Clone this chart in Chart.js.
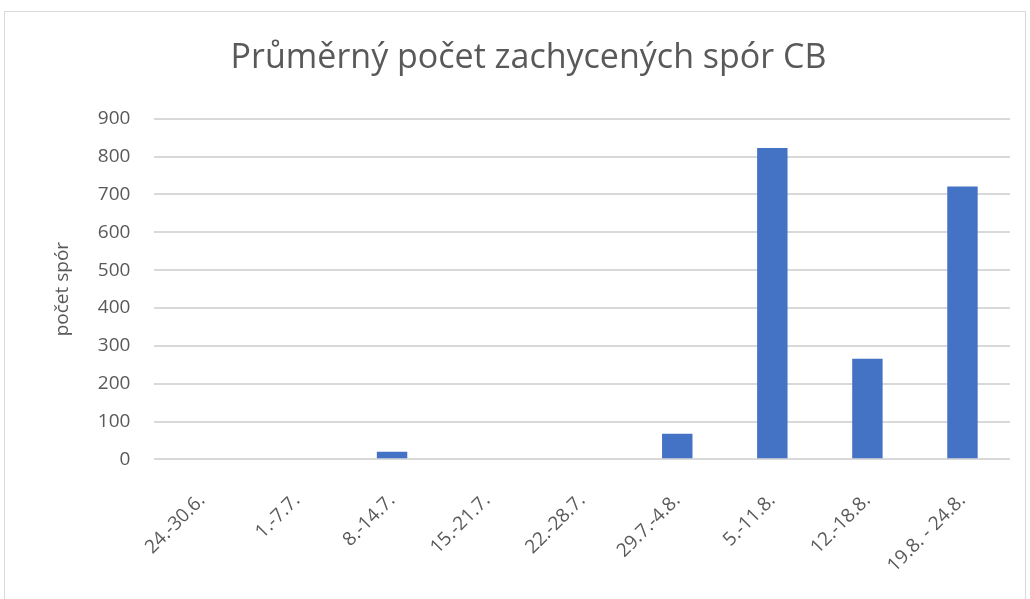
<!DOCTYPE html>
<html>
<head>
<meta charset="utf-8">
<script src="https://cdn.jsdelivr.net/npm/chart.js@4"></script>
<style>
  body { margin: 0; background: #fff; }
  #frame { position: absolute; left: 4px; top: 11px; width: 1022px; height: 600px; border: 1px solid #d9d9d9; box-sizing: border-box; }
  #wrap { position: absolute; left: 0; top: 0; width: 1030px; height: 599px; }
</style>
</head>
<body>
<div id="frame"></div>
<div id="wrap"><canvas id="sporChart"></canvas></div>
<script>
const labels = ["24.-30.6.", "1.-7.7.", "8.-14.7.", "15.-21.7.", "22.-28.7.", "29.7.-4.8.", "5.-11.8.", "12.-18.8.", "19.8. - 24.8."];
const spory = [0, 0, 20, 0, 0, 68, 823, 266, 721];
const yTicks = [0, 100, 200, 300, 400, 500, 600, 700, 800, 900];

const grey = "#595959";
const ctx = document.getElementById("sporChart").getContext("2d");

new Chart(ctx, {
  type: "bar",
  data: {
    labels: labels,
    datasets: [
      {
        label: "počet spór",
        data: spory,
        backgroundColor: "#4472c4",
        borderWidth: 0,
        categoryPercentage: 1,
        barPercentage: 0.32,
      },
    ],
  },
  options: {
    responsive: true,
    maintainAspectRatio: false,
    animation: false,
    layout: { padding: { left: 47, right: 20, top: 38, bottom: 0 } },
    plugins: {
      legend: { display: false },
      tooltip: { enabled: false },
      title: {
        display: true,
        text: "Průměrný počet zachycených spór CB",
        color: grey,
        font: { family: "Open Sans", size: 34, weight: "normal" },
        padding: { top: 0, bottom: 40 },
      },
    },
    scales: {
      x: {
        grid: { display: false },
        border: { display: false },
        ticks: {
          color: grey,
          font: { family: "Open Sans", size: 19 },
          minRotation: 45,
          maxRotation: 45,
          padding: 22,
        },
      },
      y: {
        min: 0,
        max: 900,
        afterBuildTicks: (axis) => {
          axis.ticks = yTicks.map((v) => ({ value: v }));
        },
        grid: { color: "#d9d9d9", lineWidth: 2, drawTicks: false },
        border: { display: false },
        ticks: {
          color: grey,
          font: { family: "Open Sans", size: 19 },
          padding: 24,
        },
        title: {
          display: true,
          text: "počet spór",
          color: grey,
          font: { family: "Open Sans", size: 19 },
          padding: { top: 4, bottom: 0 },
        },
      },
    },
  },
});
</script>
</body>
</html>
